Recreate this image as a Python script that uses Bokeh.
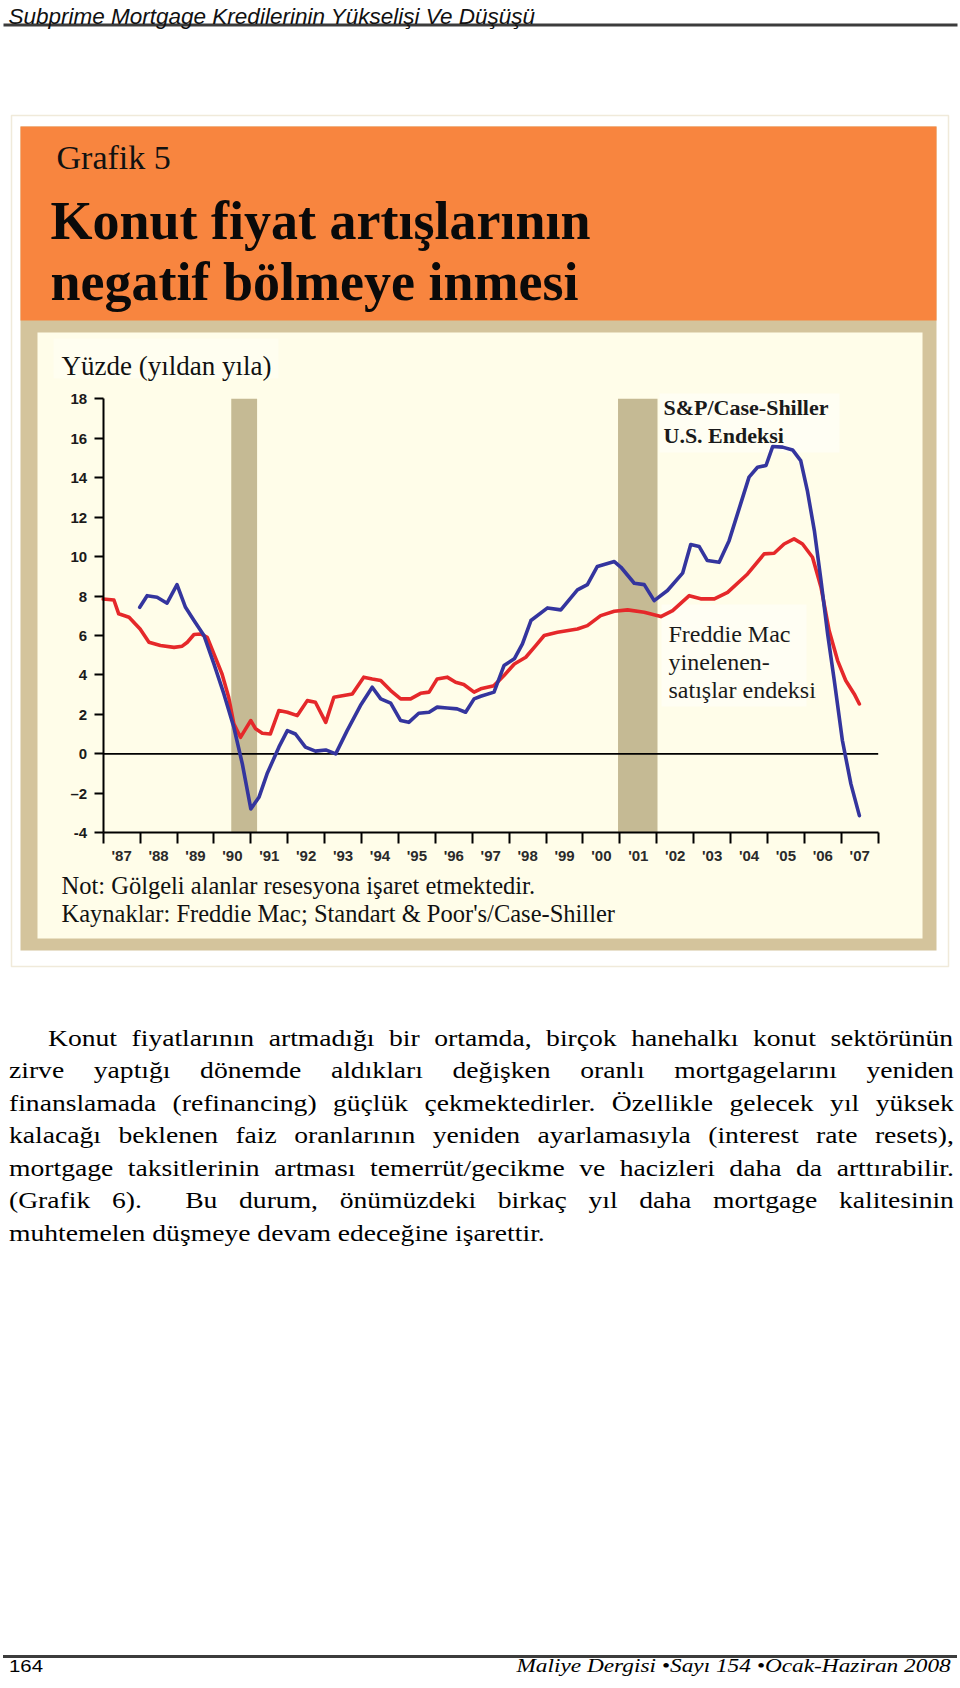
from bokeh.plotting import figure
from bokeh.models import Range1d, LinearAxis, FixedTicker, BoxAnnotation, Label, Div
from bokeh.layouts import column
from bokeh.embed import file_html
from bokeh.resources import INLINE

# ---------------- data ----------------
fm_year = [1987.0, 1987.29, 1987.42, 1987.7, 1988.0, 1988.24, 1988.55, 1988.92, 1989.14, 1989.28,
           1989.46, 1989.64, 1989.82, 1990.0, 1990.22, 1990.4, 1990.54, 1990.72, 1990.86, 1991.0,
           1991.13, 1991.31, 1991.53, 1991.76, 1991.99, 1992.26, 1992.53, 1992.75, 1993.03, 1993.25,
           1993.52, 1993.75, 1994.06, 1994.29, 1994.52, 1994.79, 1995.06, 1995.33, 1995.6, 1995.83,
           1996.05, 1996.32, 1996.55, 1996.77, 1997.05, 1997.23, 1997.59, 1997.86, 1998.14, 1998.45,
           1998.72, 1998.95, 1999.31, 1999.85, 2000.12, 2000.48, 2000.85, 2001.21, 2001.66, 2002.11,
           2002.43, 2002.88, 2003.19, 2003.56, 2003.92, 2004.46, 2004.91, 2005.18, 2005.45, 2005.72,
           2005.95, 2006.22, 2006.45, 2006.67, 2006.9, 2007.12, 2007.35, 2007.49]
fm_val = [7.85, 7.8, 7.1, 6.93, 6.33, 5.66, 5.49, 5.4, 5.46, 5.66,
          6.05, 6.08, 5.91, 5.07, 4.05, 2.87, 1.52, 0.84, 1.27, 1.69,
          1.27, 1.05, 1.01, 2.2, 2.11, 1.94, 2.7, 2.62, 1.6, 2.87,
          2.96, 3.04, 3.89, 3.8, 3.72, 3.21, 2.79, 2.79, 3.07, 3.13,
          3.8, 3.89, 3.63, 3.52, 3.13, 3.3, 3.46, 3.97, 4.56, 4.9,
          5.49, 6.0, 6.17, 6.33, 6.5, 7.01, 7.23, 7.3, 7.18, 6.96,
          7.26, 8.02, 7.86, 7.86, 8.19, 9.12, 10.14, 10.17, 10.64, 10.9,
          10.64, 9.97, 8.45, 6.25, 4.73, 3.72, 3.04, 2.53]

cs_year = [1987.99, 1988.19, 1988.46, 1988.73, 1989.0, 1989.23, 1989.46, 1989.73, 1990.0, 1990.27,
           1990.54, 1990.77, 1991.0, 1991.22, 1991.44, 1991.76, 1991.99, 1992.21, 1992.48, 1992.75,
           1993.03, 1993.3, 1993.61, 1993.97, 1994.29, 1994.52, 1994.79, 1995.06, 1995.28, 1995.55,
           1995.83, 1996.05, 1996.32, 1996.59, 1996.82, 1997.05, 1997.23, 1997.59, 1997.86, 1998.14,
           1998.36, 1998.59, 1999.04, 1999.4, 1999.85, 2000.12, 2000.39, 2000.85, 2001.03, 2001.39,
           2001.66, 2001.93, 2002.29, 2002.7, 2002.92, 2003.15, 2003.37, 2003.69, 2003.96, 2004.23,
           2004.5, 2004.73, 2004.96, 2005.14, 2005.41, 2005.68, 2005.9, 2006.08, 2006.27, 2006.45,
           2006.63, 2006.81, 2007.03, 2007.26, 2007.49]
cs_val = [7.43, 8.02, 7.94, 7.64, 8.58, 7.43, 6.76, 6.0, 4.56, 3.04,
          1.35, -0.51, -2.79, -2.2, -1.01, 0.34, 1.18, 1.01, 0.34, 0.14,
          0.2, 0.0, 1.18, 2.45, 3.38, 2.79, 2.57, 1.69, 1.6, 2.06,
          2.11, 2.37, 2.33, 2.28, 2.11, 2.79, 2.92, 3.13, 4.48, 4.82,
          5.58, 6.76, 7.4, 7.3, 8.31, 8.58, 9.5, 9.75, 9.46, 8.65,
          8.58, 7.77, 8.28, 9.16, 10.61, 10.51, 9.8, 9.71, 10.81, 12.42,
          14.03, 14.53, 14.62, 15.58, 15.55, 15.41, 14.87, 13.35, 11.32, 8.79,
          6.08, 3.72, 0.68, -1.52, -3.13]

recession_start = [1990.47, 2000.95]
recession_end = [1991.17, 2002.02]

y_ticks = [-4, -2, 0, 2, 4, 6, 8, 10, 12, 14, 16, 18]
y_tick_labels = ["-4", "\u20132", "0", "2", "4", "6", "8", "10", "12", "14", "16", "18"]
year_ticks = list(range(1987, 2009))
year_labels = ["'87", "'88", "'89", "'90", "'91", "'92", "'93", "'94", "'95", "'96", "'97",
               "'98", "'99", "'00", "'01", "'02", "'03", "'04", "'05", "'06", "'07"]

header_text = "Subprime Mortgage Kredilerinin Yükselişi Ve Düşüşü"
grafik_no = "Grafik 5"
title_lines = ["Konut fiyat artışlarının", "negatif bölmeye inmesi"]
unit_text = "Yüzde (yıldan yıla)"
cs_label = ["S&P/Case-Shiller", "U.S. Endeksi"]
fm_label = ["Freddie Mac", "yinelenen-", "satışlar endeksi"]
note_lines = ["Not: Gölgeli alanlar resesyona işaret etmektedir.",
              "Kaynaklar: Freddie Mac; Standart & Poor's/Case-Shiller"]
par_lines = [
    "Konut fiyatlarının artmadığı bir ortamda, birçok hanehalkı konut sektörünün",
    "zirve yaptığı dönemde aldıkları değişken oranlı mortgagelarını yeniden",
    "finanslamada (refinancing) güçlük çekmektedirler. Özellikle gelecek yıl yüksek",
    "kalacağı beklenen faiz oranlarının yeniden ayarlamasıyla (interest rate resets),",
    "mortgage taksitlerinin artması temerrüt/gecikme ve hacizleri daha da arttırabilir.",
    "(Grafik 6).  Bu durum, önümüzdeki birkaç yıl daha mortgage kalitesinin",
    "muhtemelen düşmeye devam edeceğine işarettir.",
]
footer_left = "164"
footer_right = "Maliye Dergisi \u2022Sayı 154 \u2022Ocak-Haziran 2008"

# ---------------- layout constants ----------------
W = 960
FIG_H = 990
DIV_H = 1688 - FIG_H
CL, CR, CT, CB = 102.7, 877.7, 398.3, 832.3   # chart area (canvas px)
X0, X1 = 1987, 2008
Y0, Y1 = -4, 18
xs = (CR - CL) / (X1 - X0)
ys = (CB - CT) / (Y1 - Y0)

ORANGE = "#F8853F"
TAN = "#D4C49C"
CREAM = "#FFFDE9"
FRAME = "#CDBB84"
SHADE = "#C5BA94"
BLUE = "#34359E"
RED = "#E5282A"

p = figure(width=W, height=FIG_H,
           x_range=Range1d(X0 - CL / xs, X1 + (W - CR) / xs),
           y_range=Range1d(Y0 - (FIG_H - CB) / ys, Y1 + CT / ys),
           x_axis_type=None, y_axis_type=None,
           toolbar_location=None, output_backend="svg", min_border=0)
p.min_border_left = p.min_border_right = p.min_border_top = p.min_border_bottom = 0
p.outline_line_color = None
p.background_fill_color = "white"
p.border_fill_color = "white"
p.extra_x_ranges = {"px": Range1d(0, W)}
p.extra_y_ranges = {"py": Range1d(FIG_H, 0)}


def box(l, r, t, b, fill=None, alpha=1.0, line=None, lw=1):
    p.add_layout(BoxAnnotation(left=l, right=r, top=t, bottom=b,
                               x_range_name="px", y_range_name="py",
                               fill_color=fill, fill_alpha=alpha if fill else 0,
                               line_color=line, line_width=lw, level="underlay"))


def label(x, y, text, font="Liberation Serif", size=20, style="normal", color="#111111"):
    p.add_layout(Label(x=x, y=y, text=text, x_range_name="px", y_range_name="py",
                       text_font=font, text_font_size=f"{size}px", text_font_style=style,
                       text_color=color, text_baseline="alphabetic", text_align="left"))


# header
box(3, 957, 23, 26, fill="#3c3c3c")
# chart box
box(11, 948, 115, 966, fill=None, line=FRAME, lw=1.5)
box(20, 936, 126, 950, fill=TAN)
box(20, 936, 126, 320, fill=ORANGE)
box(37, 922, 332, 938, fill=CREAM)
box(53, 278, 338, 378, fill="white", alpha=0.35)
box(659, 839, 393, 452, fill="white", alpha=0.45)
box(661, 806, 604, 706, fill="white", alpha=0.45)

label(8, 16, header_text, font="Liberation Sans", size=22.5, style="italic", color="#111111")
label(56, 157, grafik_no, size=34)
label(50, 220, title_lines[0], size=54, style="bold", color="#0a0a0a")
label(50, 281, title_lines[1], size=54, style="bold", color="#0a0a0a")
label(61, 365, unit_text, size=27)
label(663, 407, cs_label[0], size=22, style="bold", color="#1a1a1a")
label(663, 435, cs_label[1], size=22, style="bold", color="#1a1a1a")
for i, t in enumerate(fm_label):
    label(668, 633 + 28 * i, t, size=24, color="#1a1a1a")
label(61, 885, note_lines[0], size=24.5)
label(61, 913, note_lines[1], size=24.5)

# ---------------- chart ----------------
p.quad(left=recession_start, right=recession_end, bottom=Y0, top=Y1,
       fill_color=SHADE, line_color=None)
p.segment(x0=[X0], y0=[0], x1=[X1], y1=[0], line_color="black", line_width=1.8)
p.line(fm_year, fm_val, line_color=RED, line_width=3.6, line_join="round", line_cap="round")
p.line(cs_year, cs_val, line_color=BLUE, line_width=3.6, line_join="round", line_cap="round")

yax = LinearAxis(fixed_location=X0, bounds=(Y0, Y1),
                 ticker=FixedTicker(ticks=y_ticks, minor_ticks=[]))
yax.major_label_overrides = {t: s for t, s in zip(y_ticks, y_tick_labels)}
yax.axis_line_width = 2
yax.axis_line_color = "black"
yax.major_tick_in = 0
yax.major_tick_out = 9
yax.major_tick_line_width = 2
yax.minor_tick_line_color = None
yax.major_label_standoff = 7
yax.major_label_text_font = "Liberation Sans"
yax.major_label_text_font_style = "bold"
yax.major_label_text_font_size = "15px"
yax.major_label_text_color = "#1a1a1a"
p.add_layout(yax, "left")

mid_years = [y + 0.5 for y in year_ticks[:-1]]
xax = LinearAxis(fixed_location=Y0, bounds=(X0, X1),
                 ticker=FixedTicker(ticks=mid_years, minor_ticks=year_ticks))
xax.major_label_overrides = {t: s for t, s in zip(mid_years, year_labels)}
xax.axis_line_width = 2
xax.axis_line_color = "black"
xax.major_tick_line_color = None
xax.major_tick_in = 0
xax.major_tick_out = 11
xax.minor_tick_in = 0
xax.minor_tick_out = 11
xax.minor_tick_line_width = 2
xax.minor_tick_line_color = "black"
xax.major_label_standoff = 3
xax.major_label_text_font = "Liberation Sans"
xax.major_label_text_font_style = "bold"
xax.major_label_text_font_size = "15px"
xax.major_label_text_color = "#2a2a2a"
p.add_layout(xax, "below")

# ---------------- text below the chart ----------------
PAR_SIZE = 24
PAR_SX = 1.15
PAR_LEFT = 8.6
PAR_RIGHT = 953.5
PAR_INDENT = 48.4
PAR_B0 = 1046.0
PAR_LH = 32.5


def top_for(baseline, size, asc):
    return baseline - asc * size - FIG_H


parts = ['<div style="position:relative;width:960px;height:%dpx;color:#000;'
         "font-family:'Liberation Serif','Times New Roman',serif;\">" % DIV_H]
for i, line in enumerate(par_lines):
    left = PAR_INDENT if i == 0 else PAR_LEFT
    top = top_for(PAR_B0 + PAR_LH * i, PAR_SIZE, 0.8375)
    width = (PAR_RIGHT - left) / PAR_SX
    last = i == len(par_lines) - 1
    if last:
        inner = line
        extra = "white-space:nowrap;"
    else:
        inner = "".join("<span>%s</span>" % w for w in line.split(" "))
        extra = "display:flex;justify-content:space-between;white-space:nowrap;"
    parts.append('<div style="position:absolute;left:%.1fpx;top:%.1fpx;width:%.1fpx;'
                 'font-size:%.1fpx;line-height:%.1fpx;transform:scaleX(%.3f);'
                 'transform-origin:0 0;%s">%s</div>'
                 % (left, top, width, PAR_SIZE, PAR_SIZE, PAR_SX, extra, inner))

RULE_Y = 1655
parts.append('<div style="position:absolute;left:3px;top:%dpx;width:954px;height:3px;'
             'background:#3c3c3c;"></div>' % (RULE_Y - FIG_H))
FOOT_B = 1672
parts.append('<div style="position:absolute;left:9px;top:%.1fpx;font-family:\'Liberation Sans\',sans-serif;'
             'font-size:17px;line-height:17px;transform:scaleX(1.2);transform-origin:0 0;'
             'white-space:nowrap;">%s</div>' % (top_for(FOOT_B, 17, 0.8465), footer_left))
parts.append('<div style="position:absolute;right:9px;top:%.1fpx;font-style:italic;'
             'font-size:18.5px;line-height:18.5px;transform:scaleX(1.26);transform-origin:100%% 0;'
             'white-space:nowrap;">%s</div>' % (top_for(FOOT_B, 18.5, 0.8375), footer_right))
parts.append("</div>")

div = Div(text="".join(parts), width=W, height=DIV_H, margin=0)

layout = column(p, div, spacing=0, margin=0)
open("out.html", "w").write(file_html(layout, INLINE))
